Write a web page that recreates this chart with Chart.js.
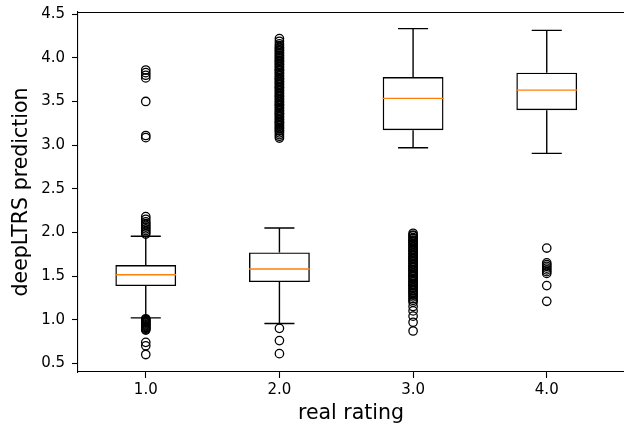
<!DOCTYPE html>
<html>
<head>
<meta charset="utf-8">
<script src="https://cdn.jsdelivr.net/npm/chart.js@4/dist/chart.umd.min.js"></script>
<style>
  html, body { margin: 0; padding: 0; background: #fff; overflow: hidden; }
  #wrap { width: 624px; height: 432px; }
</style>
</head>
<body>
<div id="wrap"><canvas id="c" width="624" height="432"></canvas></div>
<script>
// ---- data ----
const categories = [1, 2, 3, 4];
const xTickLabels = ['1.0', '2.0', '3.0', '4.0'];
const yTickValues = [0.5, 1.0, 1.5, 2.0, 2.5, 3.0, 3.5, 4.0, 4.5];

const q1 = [1.385, 1.43, 3.17, 3.40];
const median = [1.515, 1.58, 3.535, 3.63];
const q3 = [1.625, 1.77, 3.78, 3.83];
const whiskerLow = [1.02, 0.955, 2.97, 2.905];
const whiskerHigh = [1.955, 2.05, 4.335, 4.315];

const fliers1 = [3.86, 3.83, 3.80, 3.77, 3.50, 3.11, 3.085,
  2.18, 2.15, 2.12, 2.10, 2.08, 2.06, 2.04, 2.02, 2.00, 1.98,
  1.01, 1.00, 0.99, 0.98, 0.97, 0.96, 0.95, 0.94, 0.93, 0.92, 0.91, 0.90, 0.89, 0.88,
  0.74, 0.70, 0.60];
const fliers2 = [4.22, 4.19, 4.16, 4.14, 4.12, 4.11, 4.09, 4.08, 4.06, 4.05, 4.03, 4.02,
  4.00, 3.99, 3.97, 3.96, 3.95, 3.93, 3.92, 3.90, 3.89, 3.87, 3.86, 3.85, 3.83, 3.82,
  3.80, 3.79, 3.77, 3.76, 3.75, 3.73, 3.72, 3.70, 3.69, 3.67, 3.66, 3.65, 3.63, 3.62,
  3.60, 3.59, 3.57, 3.56, 3.55, 3.53, 3.52, 3.50, 3.49, 3.47, 3.46, 3.45, 3.43, 3.42,
  3.40, 3.39, 3.37, 3.36, 3.35, 3.33, 3.32, 3.30, 3.29, 3.27, 3.26, 3.25, 3.23, 3.22,
  3.20, 3.19, 3.17, 3.16, 3.14, 3.12, 3.10, 3.08,
  0.90, 0.76, 0.61];
const fliers3 = [1.99, 1.97, 1.96, 1.94, 1.93, 1.91, 1.90, 1.89, 1.87, 1.86, 1.84, 1.83,
  1.81, 1.80, 1.79, 1.77, 1.76, 1.74, 1.73, 1.71, 1.70, 1.69, 1.67, 1.66, 1.64, 1.63,
  1.61, 1.60, 1.59, 1.57, 1.56, 1.54, 1.53, 1.51, 1.50, 1.49, 1.47, 1.46, 1.44, 1.43,
  1.41, 1.40, 1.39, 1.37, 1.36, 1.34, 1.33, 1.31, 1.30, 1.28, 1.26, 1.24, 1.22, 1.20,
  1.15, 1.10, 1.04, 0.97, 0.87];
const fliers4 = [1.82, 1.65, 1.63, 1.61, 1.59, 1.57, 1.55, 1.53, 1.39, 1.21];

const xLabel = 'real rating';
const yLabel = 'deepLTRS prediction';

// ---- build library datasets from the arrays ----
const BOX_HALF = 0.2275;
const CAP_HALF = 0.1125;
const boxData = categories.map((c, i) => ({ x: c, y: [q1[i], q3[i]] }));
const whiskerData = [];
const medianData = [];
categories.forEach((c, i) => {
  whiskerData.push({ x: c, y: q3[i] }, { x: c, y: whiskerHigh[i] }, { x: c, y: null });
  whiskerData.push({ x: c - CAP_HALF, y: whiskerHigh[i] }, { x: c + CAP_HALF, y: whiskerHigh[i] }, { x: c, y: null });
  whiskerData.push({ x: c, y: q1[i] }, { x: c, y: whiskerLow[i] }, { x: c, y: null });
  whiskerData.push({ x: c - CAP_HALF, y: whiskerLow[i] }, { x: c + CAP_HALF, y: whiskerLow[i] }, { x: c, y: null });
  medianData.push({ x: c - BOX_HALF, y: median[i] }, { x: c + BOX_HALF, y: median[i] }, { x: c, y: null });
});
const flierData = [];
[fliers1, fliers2, fliers3, fliers4].forEach((arr, i) => {
  arr.forEach(v => flierData.push({ x: categories[i], y: v }));
});

const FONT = 'DejaVu Sans';
const topSpine = {
  id: 'topSpine',
  afterDraw(chart) {
    const { ctx, chartArea: { left, right, top } } = chart;
    ctx.save();
    ctx.strokeStyle = '#000';
    ctx.lineWidth = 1.1;
    ctx.beginPath();
    ctx.moveTo(left, Math.round(top) + 0.5);
    ctx.lineTo(right, Math.round(top) + 0.5);
    ctx.stroke();
    ctx.restore();
  }
};

new Chart(document.getElementById('c'), {
  type: 'bar',
  data: {
    datasets: [
      {
        type: 'bar', data: boxData, order: 3,
        backgroundColor: 'rgba(0,0,0,0)', borderColor: '#000', borderWidth: 1.4,
        borderSkipped: false, barPercentage: 0.455, categoryPercentage: 1.0, grouped: false
      },
      {
        type: 'line', data: whiskerData, order: 2,
        borderColor: '#000', borderWidth: 1.4, pointRadius: 0, spanGaps: false, fill: false
      },
      {
        type: 'line', data: medianData, order: 0,
        borderColor: '#ff7f0e', borderWidth: 1.4, pointRadius: 0, spanGaps: false, fill: false
      },
      {
        type: 'scatter', data: flierData, order: 1,
        pointStyle: 'circle', pointRadius: 4.2, pointBorderWidth: 1.3,
        pointBorderColor: '#000', pointBackgroundColor: 'rgba(0,0,0,0)'
      }
    ]
  },
  options: {
    responsive: false,
    animation: false,
    layout: { autoPadding: false, padding: { top: 12, right: 0, left: 0, bottom: 0 } },
    plugins: { legend: { display: false }, tooltip: { enabled: false } },
    scales: {
      x: {
        type: 'linear', min: 0.493, max: 4.578, offset: false,
        grid: { display: true, drawOnChartArea: false, drawTicks: true, tickLength: 6, tickColor: '#000', tickWidth: 1.1, offset: false },
        border: { display: true, color: '#000', width: 1.1 },
        afterBuildTicks: s => { s.ticks = categories.map(v => ({ value: v })); },
        afterFit: s => { s.height = 60; s.paddingLeft = 0; s.paddingRight = 0; },
        ticks: {
          color: '#000', padding: 3, maxRotation: 0,
          font: { family: FONT, size: 15 },
          callback: (v) => xTickLabels[categories.indexOf(v)]
        },
        title: { display: true, text: xLabel, color: '#000', font: { family: FONT, size: 20.5 }, padding: { top: 0, bottom: 6 } }
      },
      y: {
        type: 'linear', min: 0.40, max: 4.525,
        grid: { display: true, drawOnChartArea: false, drawTicks: true, tickLength: 6, tickColor: '#000', tickWidth: 1.1 },
        border: { display: true, color: '#000', width: 1.1 },
        afterBuildTicks: s => { s.ticks = yTickValues.map(v => ({ value: v })); },
        afterFit: s => { s.width = 78; s.paddingTop = 0; s.paddingBottom = 0; },
        ticks: {
          color: '#000', padding: 7,
          font: { family: FONT, size: 15 },
          callback: (v) => Number(v).toFixed(1)
        },
        title: { display: true, text: yLabel, color: '#000', font: { family: FONT, size: 20.5 }, padding: { top: 9, bottom: 0 } }
      }
    }
  },
  plugins: [topSpine]
});
</script>
</body>
</html>
